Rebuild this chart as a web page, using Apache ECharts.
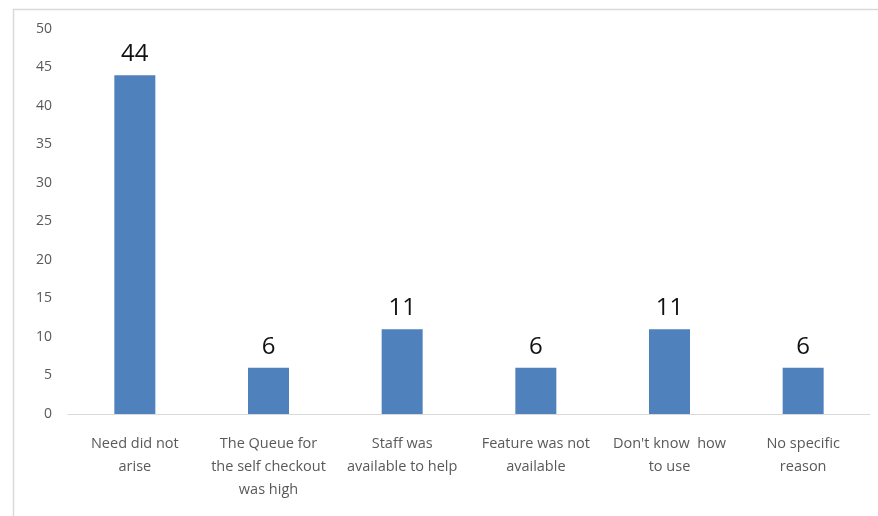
<!DOCTYPE html>
<html><head><meta charset="utf-8">
<script src="https://cdn.jsdelivr.net/npm/echarts@6/dist/echarts.min.js"></script>
<style>html,body{margin:0;padding:0;background:#fff}#c{width:878px;height:516px}</style>
</head><body><div id="c"></div>
<script>
const categories = ["Need did not\narise", "The Queue for\nthe self checkout\nwas high", "Staff was\navailable to help", "Feature was not\navailable", "Don't know  how\nto use", "No specific\nreason"];
const values = [44, 6, 11, 6, 11, 6];
const yTicks = [0, 5, 10, 15, 20, 25, 30, 35, 40, 45, 50];

const chart = echarts.init(document.getElementById('c'), null, {renderer: 'canvas'});
chart.setOption({
  animation: false,
  backgroundColor: '#fff',
  graphic: [{
    type: 'rect', left: 11, top: 7, shape: {x: 0, y: 0, width: 880, height: 520},
    style: {fill: 'none', stroke: '#d9d9d9', lineWidth: 1.5}
  }],
  grid: {left: 68, right: 8, top: 29, bottom: 102, containLabel: false},
  xAxis: {
    type: 'category', data: categories,
    axisLine: {lineStyle: {color: '#d9d9d9', width: 1}},
    axisTick: {show: false},
    axisLabel: {color: '#595959', fontFamily: 'Open Sans', fontSize: 14.5, lineHeight: 23, margin: 18, interval: 0}
  },
  yAxis: {
    type: 'value', min: yTicks[0], max: yTicks[yTicks.length - 1], interval: 5,
    splitLine: {show: false},
    axisLine: {show: false}, axisTick: {show: false},
    axisLabel: {color: '#595959', fontFamily: 'Open Sans', fontSize: 14, margin: 16}
  },
  series: [{
    type: 'bar', data: values, barWidth: 41,
    itemStyle: {color: '#4f81bd'},
    label: {show: true, position: 'top', distance: 9, color: '#111', fontFamily: 'Open Sans', fontSize: 24}
  }]
});
</script></body></html>
